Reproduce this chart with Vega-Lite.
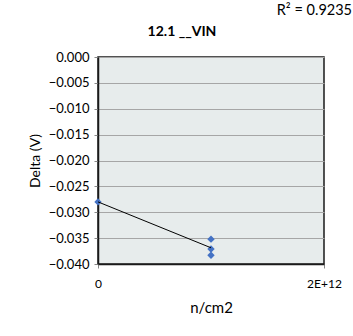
{
  "$schema": "https://vega.github.io/schema/vega-lite/v6.json",
  "autosize": {"type": "none"},
  "width": 226,
  "height": 207,
  "padding": {"left": 98, "top": 57, "right": 29, "bottom": 72},
  "background": "white",
  "title": {
    "text": "12.1 __VIN",
    "font": "Lato",
    "fontSize": 14,
    "fontWeight": "bold",
    "color": "#000000",
    "frame": "group",
    "anchor": "middle",
    "dx": -29,
    "offset": -36
  },
  "data": {
    "values": [
      {"fluence": 0, "delta": -0.028},
      {"fluence": 1e12, "delta": -0.0352},
      {"fluence": 1e12, "delta": -0.0371},
      {"fluence": 1e12, "delta": -0.0383}
    ]
  },
  "config": {
    "font": "Lato",
    "view": {"fill": "#e7ecec", "stroke": "#1a1a1a", "strokeWidth": 1.5},
    "axis": {
      "labelFont": "Lato",
      "titleFont": "Lato",
      "labelColor": "#000000",
      "titleColor": "#000000",
      "titleFontWeight": "normal",
      "labelOverlap": false
    },
    "axisY": {
      "values": [0, -0.005, -0.01, -0.015, -0.02, -0.025, -0.03, -0.035, -0.04],
      "format": ".3f",
      "grid": true,
      "gridColor": "#a6a6a6",
      "gridWidth": 1,
      "domainColor": "#1a1a1a",
      "domainWidth": 1.5,
      "tickColor": "#888888",
      "tickSize": 4,
      "labelPadding": 5,
      "labelFontSize": 13,
      "titleFontSize": 14,
      "titlePadding": 6
    }
  },
  "layer": [
    {
      "mark": {"type": "point", "shape": "diamond", "filled": true, "color": "#4472c4", "size": 55, "opacity": 1},
      "encoding": {
        "x": {
          "field": "fluence",
          "type": "quantitative",
          "title": "n/cm2",
          "scale": {"domain": [0, 2e12], "nice": false, "zero": false},
          "axis": {
            "values": [0, 2e12],
            "labelExpr": "datum.value == 0 ? '0' : '2E+12'",
            "grid": false,
            "domainColor": "#1a1a1a",
            "domainWidth": 1.5,
            "tickColor": "#888888",
            "tickSize": 4,
            "labelPadding": 10,
            "labelFontSize": 12,
            "titleFontSize": 15,
            "titlePadding": 11,
            "labelFlush": false
          }
        },
        "y": {
          "field": "delta",
          "type": "quantitative",
          "title": "Delta (V)",
          "scale": {"domain": [-0.04, 0], "nice": false, "zero": false}
        }
      }
    },
    {
      "transform": [{"regression": "delta", "on": "fluence"}],
      "mark": {"type": "line", "color": "#000000", "strokeWidth": 1},
      "encoding": {
        "x": {"field": "fluence", "type": "quantitative", "title": "n/cm2"},
        "y": {"field": "delta", "type": "quantitative", "title": "Delta (V)"}
      }
    },
    {
      "data": {"values": [{"label": "R² = 0.9235"}]},
      "mark": {"type": "text", "align": "right", "baseline": "middle", "font": "Lato", "fontSize": 14.5, "fontWeight": "normal", "color": "#000000"},
      "encoding": {
        "x": {"datum": 2.248e12, "type": "quantitative", "title": "n/cm2"},
        "y": {"datum": 0.0089, "type": "quantitative", "title": "Delta (V)"},
        "text": {"field": "label", "type": "nominal"}
      }
    }
  ]
}
